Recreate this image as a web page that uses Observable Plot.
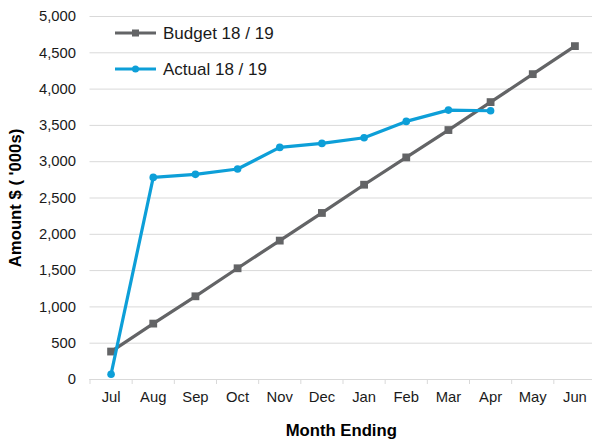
<!DOCTYPE html>
<html><head><meta charset="utf-8">
<script src="https://cdn.jsdelivr.net/npm/d3@7"></script>
<script src="https://cdn.jsdelivr.net/npm/@observablehq/plot@0.6"></script>
<style>
html,body{margin:0;padding:0;background:#fff;}
#wrap{position:relative;width:592px;height:443px;overflow:hidden;font-family:"Liberation Sans",Arial,sans-serif;}
#wrap svg g[aria-label="x-axis label"] text, #wrap svg g[aria-label="y-axis label"] text{font-weight:bold;font-size:16.7px;fill:#000;}
.legend{position:absolute;left:115px;display:flex;align-items:center;font-size:17px;color:#1a1a1a;line-height:1;}
.legend svg{margin-right:7px;}
</style></head><body>
<div id="wrap"></div>
<script>
const months = ["Jul","Aug","Sep","Oct","Nov","Dec","Jan","Feb","Mar","Apr","May","Jun"];
const budget = [385,770,1146,1532,1913,2294,2683,3059,3436,3821,4206,4592];
const actual = [73,2784,2826,2899,3197,3252,3330,3555,3711,3702];
const yTicks = [0,500,1000,1500,2000,2500,3000,3500,4000,4500,5000];
const seriesNames = ["Budget 18 / 19","Actual 18 / 19"];
const colors = ["#636466","#0d9fd8"];

const bRows = budget.map((v,i)=>({i, v}));
const aRows = actual.map((v,i)=>({i, v}));
const idx = months.map((_,i)=>i);
const bounds = months.map((_,i)=>i-0.5).concat([months.length-0.5]);

const chart = Plot.plot({
  width:592, height:443,
  marginLeft:89.5, marginRight:0, marginTop:16, marginBottom:64,
  x:{domain:[-0.5, months.length-0.5], range:[89.5,595.5]},
  y:{domain:[0,5000]},
  style:{fontFamily:"'Liberation Sans', Arial, sans-serif", fontSize:"14.8px", color:"#1a1a1a", background:"#fff"},
  marks:[
    Plot.gridY(yTicks,{stroke:"#d9d9d9", strokeOpacity:1, strokeWidth:1}),
    Plot.ruleY([0],{stroke:"#d9d9d9", strokeWidth:1.2}),
    Plot.axisX(bounds,{tickSize:5, stroke:"#d9d9d9", tickFormat:()=> "", label:null}),
    Plot.axisX(idx,{tickSize:0, tickPadding:12, tickFormat:i=>months[i], label:"Month Ending", labelAnchor:"center", labelOffset:56, labelArrow:"none"}),
    Plot.axisY(yTicks,{tickSize:0, tickPadding:14, tickFormat:d3.format(","), label:"Amount $ ( '000s)", labelAnchor:"center", labelOffset:81, labelArrow:"none"}),
    Plot.line(bRows,{x:"i", y:"v", stroke:colors[0], strokeWidth:3.2}),
    Plot.dot(bRows,{x:"i", y:"v", symbol:"square", fill:colors[0], r:4.4}),
    Plot.line(aRows,{x:"i", y:"v", stroke:colors[1], strokeWidth:3.2}),
    Plot.dot(aRows,{x:"i", y:"v", fill:colors[1], r:3.8})
  ]
});
const wrap = document.getElementById("wrap");
wrap.appendChild(chart);

const legendTops = [23, 59];
seriesNames.forEach((name,k)=>{
  const d = document.createElement("div");
  d.className = "legend";
  d.style.top = legendTops[k] + "px";
  const marker = k===0
    ? `<rect x="17" y="6.5" width="7" height="7" fill="${colors[k]}"/>`
    : `<circle cx="20.5" cy="10" r="3.5" fill="${colors[k]}"/>`;
  d.innerHTML = `<svg width="41" height="20"><line x1="0" x2="41" y1="10" y2="10" stroke="${colors[k]}" stroke-width="3.2"/>${marker}</svg><span>${name}</span>`;
  wrap.appendChild(d);
});
</script>
</body></html>
